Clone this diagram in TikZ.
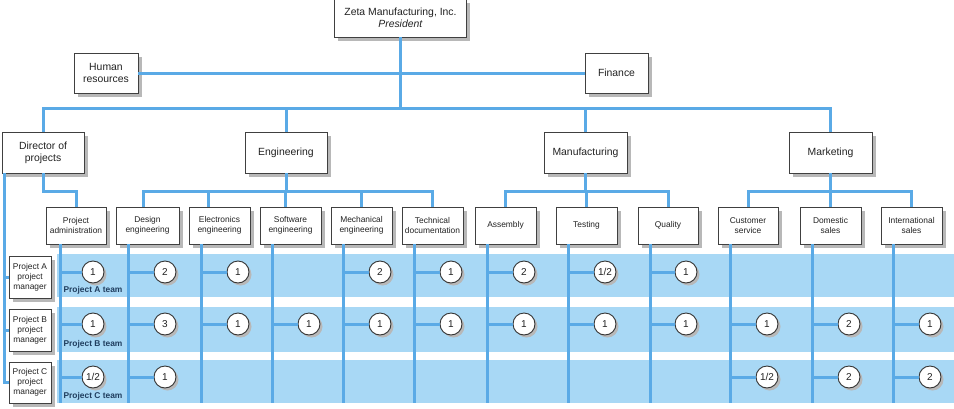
\documentclass[tikz,border=0pt]{standalone}
\usepackage{fontspec}
\setmainfont{Liberation Sans}
\usetikzlibrary{shadows}
\definecolor{lineblue}{HTML}{5AAAE6}
\definecolor{bandblue}{HTML}{A8D8F5}
\definecolor{teamnavy}{HTML}{1F3D5E}
\definecolor{txt}{HTML}{222222}
\begin{document}
\begin{tikzpicture}[x=1pt,y=-1pt,
  box/.style={draw=black!75, line width=0.8pt, fill=white, inner sep=0pt, align=center, text=txt,
    drop shadow={shadow xshift=3.5pt, shadow yshift=-3.5pt, fill=black!28, opacity=1}},
  big/.style={box, font=\fontsize{10.4}{12}\selectfont},
  small/.style={box, font=\fontsize{8.4}{10.2}\selectfont, minimum height=37pt},
  pmbox/.style={box, font=\fontsize{8.4}{10}\selectfont, minimum width=42pt, minimum height=42pt},
  circ/.style={circle, draw=black!80, line width=0.9pt, fill=white, minimum size=22pt, inner sep=0pt,
    text=txt, font=\fontsize{10}{10}\selectfont,
    drop shadow={shadow xshift=2.5pt, shadow yshift=-2.5pt, fill=black!28, opacity=1}},
  bl/.style={draw=lineblue, line width=3pt},
  team/.style={font=\fontsize{8.4}{8}\selectfont\bfseries, text=teamnavy, inner sep=0pt}
]
\useasboundingbox (0,0) rectangle (954,408);
% bands
\fill[bandblue] (57,254) rectangle (954,297);
\fill[bandblue] (57,307) rectangle (954,352);
\fill[bandblue] (57,360) rectangle (954,403);
\coordinate (bus1) at (0,108);
\coordinate (bus2) at (0,191);
\coordinate (bot) at (0,403);
% top
\node[big, minimum width=132pt, minimum height=38pt] (pres) at (400.5,18) {Zeta Manufacturing, Inc.\\\textit{President}};
\node[big, minimum width=64pt, minimum height=40pt] (hr) at (106,73) {Human\\resources};
\node[big, minimum width=63pt, minimum height=40pt] (fin) at (616.5,73) {Finance};
\node[big, minimum width=82pt, minimum height=41pt] (dir) at (43,152.5) {Director of\\projects};
\node[big, minimum width=82pt, minimum height=41pt] (eng) at (286,152.5) {Engineering};
\node[big, minimum width=83pt, minimum height=41pt] (man) at (585.5,152.5) {Manufacturing};
\node[big, minimum width=83pt, minimum height=41pt] (mkt) at (830.5,152.5) {Marketing};
% second level
\node[small, minimum width=60pt] (pa) at (76,225.5) {Project\\administration};
\node[small, minimum width=63pt] (des) at (147.5,225.5) {Design\\engineering};
\node[small, minimum width=61pt] (ele) at (219.5,225.5) {Electronics\\engineering};
\node[small, minimum width=61pt] (sw) at (290.5,225.5) {Software\\engineering};
\node[small, minimum width=61pt] (mech) at (361.5,225.5) {Mechanical\\engineering};
\node[small, minimum width=61pt] (tech) at (432.5,225.5) {Technical\\documentation};
\node[small, minimum width=61pt] (asm) at (505.5,225.5) {Assembly};
\node[small, minimum width=61pt] (tst) at (586.5,225.5) {Testing};
\node[small, minimum width=60pt] (qua) at (668,225.5) {Quality};
\node[small, minimum width=60pt] (cus) at (748,225.5) {Customer\\service};
\node[small, minimum width=61pt] (dom) at (830.5,225.5) {Domestic\\sales};
\node[small, minimum width=61pt] (intl) at (911.5,225.5) {International\\sales};
% project managers
\node[pmbox] (pma) at (30,277) {Project A\\project\\manager};
\node[pmbox] (pmb) at (30,330) {Project B\\project\\manager};
\node[pmbox, minimum height=41pt] (pmc) at (30,382.5) {Project C\\project\\manager};
% top connectors
\draw[bl] (pres.south) -- (pres.south |- bus1);
\draw[bl] (hr.east) -- (fin.west);
\draw[bl] (dir.north) -- (dir.north |- bus1) -- (mkt.north |- bus1) -- (mkt.north);
\draw[bl] (eng.north |- bus1) -- (eng.north);
\draw[bl] (man.north |- bus1) -- (man.north);
% engineering bus
\coordinate (desd) at ([xshift=-4.5pt]des.north);
\coordinate (eled) at ([xshift=-11.5pt]ele.north);
\coordinate (swd) at ([xshift=-5.5pt]sw.north);
\draw[bl] (eng.south) -- (eng.south |- bus2);
\draw[bl] (desd) -- (desd |- bus2) -- (tech.north |- bus2) -- (tech.north);
\draw[bl] (eled |- bus2) -- (eled);
\draw[bl] (swd |- bus2) -- (swd);
\draw[bl] (mech.north |- bus2) -- (mech.north);
% manufacturing bus
\draw[bl] (man.south) -- (man.south |- bus2);
\draw[bl] (asm.north) -- (asm.north |- bus2) -- (qua.north |- bus2) -- (qua.north);
\draw[bl] (tst.north |- bus2) -- (tst.north);
% marketing bus
\draw[bl] (mkt.south) -- (mkt.south |- bus2);
\draw[bl] (cus.north) -- (cus.north |- bus2) -- (intl.north |- bus2) -- (intl.north);
\draw[bl] (dom.north |- bus2) -- (dom.north);
% director to project admin and managers
\draw[bl] (dir.south) -- (dir.south |- bus2) -| (pa.north);
\coordinate (dl) at ([xshift=3pt]dir.south west);
\draw[bl] (dl) |- (pmc.west);
\draw[bl] (dl |- pma.west) -- (pma.west);
\draw[bl] (dl |- pmb.west) -- (pmb.west);
% vertical lines under second level
\coordinate (pa-l) at ([xshift=15pt]pa.south west);
\foreach \c in {des,ele,sw,mech,tech,asm,tst,qua,cus,dom,intl}{
  \coordinate (\c-l) at ([xshift=13pt]\c.south west);
}
\foreach \c in {pa,des,ele,sw,mech,tech,asm,tst,qua,cus,dom,intl}{
  \draw[bl] (\c-l) -- (\c-l |- bot);
}
% circles
\foreach \c/\x/\r/\y/\v in {
  pa/93/a/272/1, des/165/a/272/2, ele/238/a/272/1, mech/380/a/272/2, tech/451/a/272/1,
  asm/524/a/272/2, tst/605/a/272/1\slash 2, qua/686/a/272/1,
  pa/93/b/324/1, des/165/b/324/3, ele/238/b/324/1, sw/309/b/324/1, mech/380/b/324/1, tech/451/b/324/1,
  asm/524/b/324/1, tst/605/b/324/1, qua/686/b/324/1, cus/767/b/324/1, dom/849/b/324/2, intl/930/b/324/1,
  pa/93/c/377/1\slash 2, des/165/c/377/1, cus/767/c/377/1\slash 2, dom/849/c/377/2, intl/930/c/377/2}{
  \node[circ] (\r\c) at (\x,\y) {\v};
  \draw[bl] (\c-l |- \r\c) -- (\r\c);
}
% team labels
\node[team] (ta) at (93,290) {Project A team};
\node[team] (tb) at (93,344) {Project B team};
\node[team] (tc) at (93,396) {Project C team};
\end{tikzpicture}
\end{document}
